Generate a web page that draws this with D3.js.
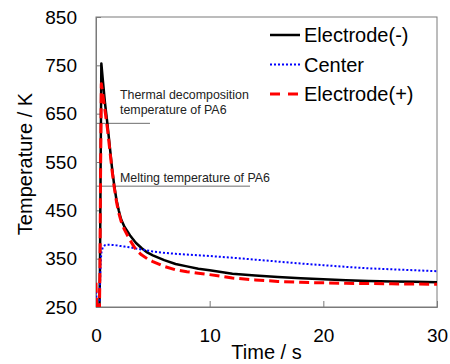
<!DOCTYPE html>
<html>
<head>
<meta charset="utf-8">
<script src="https://cdn.jsdelivr.net/npm/d3@7"></script>
<style>
  html, body { margin: 0; padding: 0; background: #fff; }
  svg { display: block; font-family: "Liberation Sans", Arial, sans-serif; }
</style>
</head>
<body>
<svg id="chart" width="450" height="364"></svg>
<script>
// ---- data ----
const times = [0, 0.05, 0.1, 0.2, 0.3, 0.35, 0.4, 0.47, 0.6, 0.8, 1.0, 1.2, 1.4, 1.6, 1.8, 2.0, 2.2, 2.5, 3.0, 3.5, 4.0, 4.5, 5, 6, 7, 8, 9, 10, 12, 14, 16, 18, 20, 22, 24, 26, 28, 30];
const electrodeNeg = [240, 240, 240, 240, 240, 330, 520, 754, 720, 670, 630, 585, 540, 502, 472, 450, 432, 416, 398, 383, 372, 363, 357, 347, 339, 334, 329, 326, 319, 315, 312, 309.5, 307.5, 305.5, 304, 303, 302, 301];
const center = [290, 262, 250, 240, 240, 290, 340, 362, 374, 378, 379, 379, 378.5, 378, 377.5, 376.5, 376, 375, 373.5, 371, 369, 367, 365, 362, 360, 358.5, 357, 355.5, 352, 348, 344, 340, 336.5, 333, 330, 328, 326, 324];
const electrodePos = [300, 255, 240, 240, 240, 330, 520, 712, 690, 655, 620, 578, 535, 498, 468, 445, 428, 410, 388, 369, 358, 350, 344, 334, 327, 323, 320, 317, 310, 306, 303, 301, 300, 299, 298.5, 298, 297.5, 297];
const seriesNames = ["Electrode(-)", "Center", "Electrode(+)"];
const xTicks = [0, 10, 20, 30];
const yTicks = [250, 350, 450, 550, 650, 750, 850];
const refTemps = [630, 500];
const refEndTimes = [4.75, 13.55];
const refLabels = [["Thermal decomposition", "temperature of PA6"], ["Melting temperature of PA6"]];
const xTitle = "Time / s";
const yTitle = "Temperature / K";

// ---- layout ----
const svg = d3.select("#chart");
const L = 96, R = 437, T = 17, B = 307;
const x = d3.scaleLinear().domain([0, 30]).range([L, R]);
const y = d3.scaleLinear().domain([250, 850]).range([B, T]);

svg.append("defs").append("clipPath").attr("id", "clip")
  .append("rect").attr("x", L).attr("y", T).attr("width", R - L).attr("height", B - T);

// frame
svg.append("rect").attr("x", L).attr("y", T).attr("width", R - L).attr("height", B - T)
  .attr("fill", "none").attr("stroke", "#7a7a7a").attr("stroke-width", 1);

// axes (inside ticks)
const yAxis = svg.append("g").attr("transform", `translate(${L},0)`)
  .call(d3.axisLeft(y).tickValues(yTicks).tickSize(-5).tickPadding(19).tickFormat(d3.format("d")));
const xAxis = svg.append("g").attr("transform", `translate(0,${B})`)
  .call(d3.axisBottom(x).tickValues(xTicks).tickSize(-6).tickPadding(22).tickFormat(d3.format("d")));
[yAxis, xAxis].forEach(g => {
  g.select(".domain").attr("stroke", "#7a7a7a");
  g.selectAll(".tick line").attr("stroke", "#7a7a7a");
  g.selectAll(".tick text").attr("font-size", 19).attr("fill", "#000")
    .attr("font-family", "'Liberation Sans', Arial, sans-serif");
});

// reference lines + annotations
refTemps.forEach((t, i) => {
  svg.append("line").attr("x1", x(0)).attr("x2", x(refEndTimes[i]))
    .attr("y1", y(t)).attr("y2", y(t)).attr("stroke", "#6e6e6e").attr("stroke-width", 1);
});
const ann = svg.append("g").attr("font-size", 12.4).attr("fill", "#222");
ann.append("text").attr("x", 120).attr("y", 99).text(refLabels[0][0]);
ann.append("text").attr("x", 120).attr("y", 113.5).text(refLabels[0][1]);
ann.append("text").attr("x", 120).attr("y", 181.5).text(refLabels[1][0]);

// series
const seriesData = [electrodeNeg, center, electrodePos];
const styles = [
  { color: "#000000", width: 2.5, dash: null },
  { color: "#0000ff", width: 2, dash: "2,2" },
  { color: "#ff0000", width: 3, dash: "10,5" }
];
const line = d3.line().x((d, i) => x(times[i])).y(d => y(d));
const plot = svg.append("g").attr("clip-path", "url(#clip)");
seriesData.forEach((vals, k) => {
  plot.append("path").datum(vals).attr("d", line)
    .attr("fill", "none").attr("stroke", styles[k].color)
    .attr("stroke-width", styles[k].width)
    .attr("stroke-dasharray", styles[k].dash)
    .attr("stroke-linejoin", "round");
});

// legend
const leg = svg.append("g");
seriesNames.forEach((name, k) => {
  const ly = 35 + k * 29.5;
  leg.append("line").attr("x1", 270).attr("x2", 300).attr("y1", ly).attr("y2", ly)
    .attr("stroke", styles[k].color).attr("stroke-width", styles[k].width)
    .attr("stroke-dasharray", k === 2 ? "10,8" : styles[k].dash);
  leg.append("text").attr("x", 304).attr("y", ly + 7).attr("font-size", 20).attr("fill", "#000").text(name);
});

// axis titles
svg.append("text").attr("x", (L + R) / 2).attr("y", 359).attr("text-anchor", "middle")
  .attr("font-size", 20).text(xTitle);
svg.append("text").attr("transform", `translate(32,${(T + B) / 2 + 2}) rotate(-90)`)
  .attr("text-anchor", "middle").attr("font-size", 20).text(yTitle);
</script>
</body>
</html>
